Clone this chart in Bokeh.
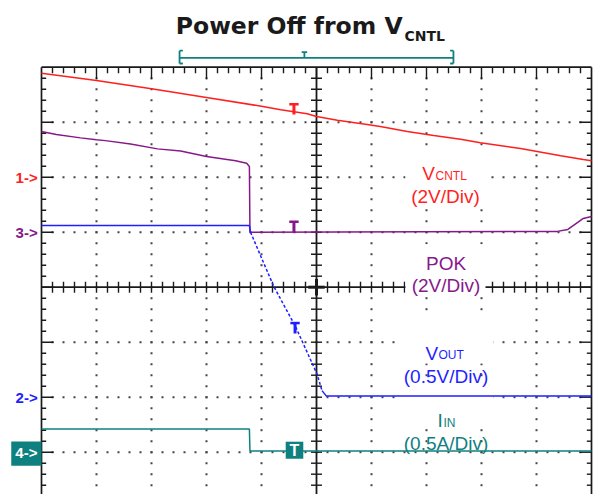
import numpy as np
from bokeh.plotting import figure
from bokeh.models import Range1d
from bokeh.core.properties import value
from bokeh.embed import file_html
from bokeh.resources import INLINE

# ---------------- data (time in screen divisions, values in physical units) -------------
vcntl_t = [0.0, 1.0, 2.0, 3.0, 4.0, 4.35, 4.83, 5.0, 5.38, 5.92, 6.16, 6.65, 7.13, 7.62, 7.98, 8.71, 9.44, 9.85, 10.0]
vcntl_v = [3.78, 3.52, 3.22, 2.90, 2.58, 2.45, 2.31, 2.21, 2.07, 1.92, 1.84, 1.66, 1.52, 1.38, 1.25, 1.04, 0.78, 0.64, 0.60]

pok_t = [0.0, 0.27, 0.71, 1.0, 1.16, 1.62, 2.11, 2.53, 3.0, 3.53, 3.73, 3.78, 3.79, 9.38, 9.57, 9.75, 9.85, 10.0]
pok_v = [3.66, 3.55, 3.43, 3.36, 3.33, 3.21, 3.03, 2.95, 2.75, 2.60, 2.51, 2.39, 0.0, 0.03, 0.10, 0.36, 0.50, 0.57]

vout_t = [0.0, 3.78, 3.80, 4.22, 4.62, 5.01, 5.10, 5.18, 10.0]
vout_v = [1.56, 1.56, 1.50, 1.01, 0.64, 0.21, 0.06, 0.01, 0.01]

iin_t = [0.0, 3.78, 3.79, 10.0]
iin_a = [0.21, 0.21, 0.01, 0.01]

# channel ground level (div) and scale (units/div)
channels = {
    "vcntl": (6.0, 2.0),
    "pok": (5.0, 2.0),
    "vout": (2.0, 0.5),
    "iin": (1.0, 0.5),
}
# trigger-level markers: time (div) and level (div) of red, purple, blue, teal
trig_x = [4.59, 4.59, 4.61, 4.60]
trig_base = [7.138, 5.0, 3.158, 1.036]

RED = "#ff1f1f"
PURPLE = "#86198a"
BLUE = "#1f1fff"
TEAL = "#0f8080"
INK = "#1a1a1a"


def to_div(vals, ch):
    g, s = channels[ch]
    return [g + v / s for v in vals]


W, H = 597, 494
X0, X1 = -41 / 55, (W - 41) / 55
Y0, Y1 = 8 - (H - 66.7) / 55, 8 + 66.7 / 55

p = figure(width=W, height=H, x_range=Range1d(X0, X1), y_range=Range1d(Y0, Y1),
           output_backend="svg", toolbar_location=None, min_border=0,
           x_axis_location=None, y_axis_location=None)
p.grid.visible = False
p.outline_line_color = None
p.background_fill_color = "white"
p.border_fill_color = "white"

# ---------------- graticule ----------------
ys = np.round(np.arange(0.2, 8.0, 0.2), 6)
xs = np.round(np.arange(0.2, 10.0, 0.2), 6)
ymaj = np.isclose(ys - np.round(ys), 0)
xmaj = np.isclose(xs - np.round(xs), 0)

# dotted grid
dx, dy = [], []
for gx in [1, 2, 3, 4, 6, 7, 8, 9]:
    dx += [gx] * len(ys)
    dy += list(ys)
for gy in [1, 2, 3, 5, 6, 7]:
    dx += list(xs)
    dy += [gy] * len(xs)
p.scatter(dx, dy, marker="square", size=2, color="#444444", line_color=None)

# frame
p.segment(x0=[0, 0, 10], y0=[8, Y0 - 1, Y0 - 1], x1=[10, 0, 10], y1=[8, 8, 8],
          line_color=INK, line_width=1.7)
# edge ticks
lt = np.where(ymaj, 0.22, 0.085)
p.segment(x0=np.zeros_like(ys), y0=ys, x1=lt, y1=ys, line_color=INK, line_width=1.4)
p.segment(x0=np.full_like(ys, 10), y0=ys, x1=10 - lt, y1=ys, line_color=INK, line_width=1.4)
tt = np.where(xmaj, 0.22, 0.11)
p.segment(x0=xs, y0=np.full_like(xs, 8), x1=xs, y1=8 - tt, line_color=INK, line_width=1.4)

# centre cross-hair
p.segment(x0=[0, 5], y0=[4, Y0 - 1], x1=[10, 5], y1=[4, 8], line_color=INK, line_width=1.8)
p.segment(x0=xs, y0=np.full_like(xs, 3.9), x1=xs, y1=np.full_like(xs, 4.1), line_color=INK, line_width=1.4)
p.segment(x0=np.full_like(ys, 4.9), y0=ys, x1=np.full_like(ys, 5.1), y1=ys, line_color=INK, line_width=1.4)
p.segment(x0=[4.85, 5], y0=[4, 3.85], x1=[5.15, 5], y1=[4, 4.15], line_color=INK, line_width=3)

# white backgrounds behind the channel captions
p.rect(x=[7.345, 7.345, 7.355, 7.355], y=[6.0, 4.32, 3.04, 1.87],
       width=[1.455, 1.455, 1.727, 1.727], height=[0.89, 0.92, 0.85, 0.87],
       fill_color="white", line_color=None)

# ---------------- traces ----------------
p.line(vcntl_t, to_div(vcntl_v, "vcntl"), line_color=RED, line_width=1.5)
p.line(pok_t, to_div(pok_v, "pok"), line_color=PURPLE, line_width=1.5)
vy = to_div(vout_v, "vout")
p.line(vout_t[:3], vy[:3], line_color=BLUE, line_width=1.5)
p.line(vout_t[2:7], vy[2:7], line_color=BLUE, line_width=1.5, line_dash="3 2")
p.line(vout_t[6:], vy[6:], line_color=BLUE, line_width=1.5)
p.line(iin_t, to_div(iin_a, "iin"), line_color=TEAL, line_width=1.5)

# trigger markers (T shapes)
tc = [RED, PURPLE, BLUE]
tx = np.array(trig_x[:3])
tb = np.array(trig_base[:3])
p.segment(x0=tx, y0=tb, x1=tx, y1=tb + 0.19, line_color=tc, line_width=3)
p.segment(x0=tx - 0.085, y0=tb + 0.19, x1=tx + 0.085, y1=tb + 0.19, line_color=tc, line_width=2.5)
TF = value("Liberation Sans")
p.rect(x=[trig_x[3]], y=[trig_base[3]], width=0.32, height=0.31, fill_color=TEAL, line_color=None)
p.text(x=[trig_x[3]], y=[trig_base[3] - 0.005], text=["T"], text_color="white", text_font=TF,
       text_font_style="bold", text_font_size="16px", text_align="center", text_baseline="middle")

# ---------------- channel markers ----------------
p.text(x=[-0.07, -0.07, -0.07], y=[6.0, 5.0, 2.0], text=["1->", "3->", "2->"],
       text_color=[RED, PURPLE, BLUE], text_font=TF, text_font_size="15px", text_font_style="bold",
       text_align="right", text_baseline="middle")
p.rect(x=[-0.275], y=[0.975], width=0.55, height=0.44, fill_color=TEAL, line_color=None)
p.text(x=[-0.275], y=[0.99], text=["4->"], text_color="white", text_font=TF,
       text_font_style="bold", text_font_size="15px", text_align="center", text_baseline="middle")

# ---------------- trace labels ----------------
def lbl(x, y, t, c, size="19px", align="left"):
    p.text(x=[x], y=[y], text=[t], text_color=c, text_font=TF, text_font_size=size,
           text_align=align, text_baseline="alphabetic")

lbl(6.922, 6.067, "V", RED)
lbl(7.164, 6.03, "CNTL", RED, "12px")
lbl(7.345, 5.658, "(2V/Div)", RED, align="center")
lbl(7.355, 4.436, "POK", PURPLE, align="center")
lbl(7.355, 4.04, "(2V/Div)", PURPLE, align="center")
lbl(6.982, 2.80, "V", BLUE)
lbl(7.218, 2.767, "OUT", BLUE, "12px")
lbl(7.355, 2.385, "(0.5V/Div)", BLUE, align="center")
lbl(7.20, 1.576, "I", TEAL)
lbl(7.309, 1.54, "IN", TEAL, "12px")
lbl(7.355, 1.167, "(0.5A/Div)", TEAL, align="center")

# ---------------- top bracket ----------------
bx0, bx1, by, bt = 2.51, 7.49, 8.171, 4.78
p.segment(x0=[bx0, bx0, bx0, bx0, bx1, bx1, bx1, bt, bt - 0.05],
          y0=[by, 8.067, 8.30, 8.067, 8.067, 8.30, 8.067, by, 8.273],
          x1=[bx1, bx0, bx0 + 0.06, bx0 + 0.06, bx1, bx1 - 0.06, bx1 - 0.06, bt, bt + 0.05],
          y1=[by, 8.30, 8.30, 8.067, 8.30, 8.30, 8.067, 8.273, 8.273],
          line_color=TEAL, line_width=1.8)

# ---------------- title ----------------
p.text(x=[6.565], y=[8.758], text=["Power Off from V"], text_color=INK,
       text_font=value("DejaVu Sans"), text_font_style="bold", text_font_size="23.5px",
       text_align="right", text_baseline="alphabetic")
p.text(x=[6.60], y=[8.56], text=["CNTL"], text_color=INK,
       text_font=value("DejaVu Sans"), text_font_style="bold", text_font_size="14px",
       text_align="left", text_baseline="alphabetic")

open("out.html", "w").write(file_html(p, INLINE))
